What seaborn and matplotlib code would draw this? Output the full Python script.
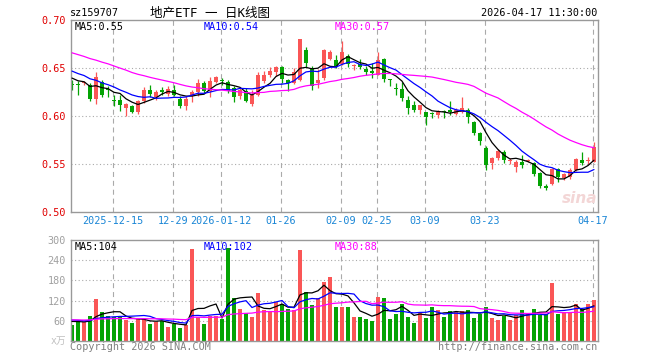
import numpy as np
import pandas as pd
import matplotlib
matplotlib.use("Agg")
import matplotlib.pyplot as plt
import seaborn as sns

# trading calendar (SZ exchange, holidays removed)
holidays = ["2026-01-01", "2026-01-02", "2026-02-16", "2026-02-17", "2026-02-18",
            "2026-02-19", "2026-02-20", "2026-02-23", "2026-04-06"]
days = pd.bdate_range("2025-12-04", "2026-04-17")
days = days[~days.isin(pd.to_datetime(holidays))]

open_ = [0.6330, 0.6330, 0.6345, 0.6320, 0.6178, 0.6356, 0.6280, 0.6165, 0.6168, 0.6085,
         0.6105, 0.6040, 0.6160, 0.6273, 0.6200, 0.6273, 0.6227, 0.6273, 0.6178, 0.6105,
         0.6210, 0.6250, 0.6342, 0.6255, 0.6353, 0.6375, 0.6353, 0.6290, 0.6203, 0.6255,
         0.6126, 0.6220, 0.6367, 0.6423, 0.6454, 0.6507, 0.6370, 0.6342, 0.6377, 0.6692,
         0.6500, 0.6342, 0.6395, 0.6594, 0.6580, 0.6545, 0.6629, 0.6520, 0.6545, 0.6489,
         0.6472, 0.6430, 0.6597, 0.6384, 0.6283, 0.6280, 0.6168, 0.6115, 0.6056, 0.6045,
         0.6022, 0.6010, 0.6036, 0.6047, 0.6020, 0.6045, 0.6063, 0.5941, 0.5818, 0.5661,
         0.5510, 0.5556, 0.5623, 0.5533, 0.5462, 0.5521, 0.5525, 0.5504, 0.5406, 0.5256,
         0.5294, 0.5441, 0.5347, 0.5357, 0.5434, 0.5538, 0.5525, 0.5521]
high = [0.6377, 0.6360, 0.6360, 0.6340, 0.6454, 0.6370, 0.6310, 0.6220, 0.6220, 0.6133,
        0.6110, 0.6165, 0.6300, 0.6325, 0.6266, 0.6300, 0.6307, 0.6325, 0.6203, 0.6203,
        0.6270, 0.6388, 0.6360, 0.6410, 0.6412, 0.6395, 0.6377, 0.6315, 0.6300, 0.6290,
        0.6273, 0.6454, 0.6465, 0.6507, 0.6517, 0.6517, 0.6384, 0.6500, 0.6797, 0.6720,
        0.6517, 0.6489, 0.6700, 0.6690, 0.6640, 0.6779, 0.6650, 0.6545, 0.6594, 0.6517,
        0.6552, 0.6664, 0.6605, 0.6388, 0.6342, 0.6350, 0.6203, 0.6150, 0.6115, 0.6045,
        0.6035, 0.6063, 0.6063, 0.6150, 0.6080, 0.6196, 0.6080, 0.5951, 0.5836, 0.5690,
        0.5573, 0.5654, 0.5640, 0.5560, 0.5538, 0.5591, 0.5545, 0.5521, 0.5416, 0.5294,
        0.5451, 0.5451, 0.5406, 0.5451, 0.5556, 0.5619, 0.5570, 0.5731]
low = [0.6266, 0.6220, 0.6325, 0.6160, 0.6122, 0.6200, 0.6200, 0.6105, 0.6055, 0.6000,
       0.6030, 0.6020, 0.6133, 0.6196, 0.6168, 0.6220, 0.6203, 0.6203, 0.6080, 0.6056,
       0.6143, 0.6210, 0.6238, 0.6200, 0.6340, 0.6325, 0.6238, 0.6140, 0.6175, 0.6140,
       0.6105, 0.6203, 0.6343, 0.6405, 0.6412, 0.6342, 0.6255, 0.6332, 0.6360, 0.6510,
       0.6265, 0.6290, 0.6377, 0.6583, 0.6500, 0.6535, 0.6510, 0.6475, 0.6490, 0.6430,
       0.6395, 0.6430, 0.6350, 0.6314, 0.6220, 0.6160, 0.6020, 0.6035, 0.6020, 0.5906,
       0.5976, 0.5976, 0.5976, 0.6010, 0.6010, 0.6030, 0.5923, 0.5800, 0.5700, 0.5433,
       0.5441, 0.5542, 0.5507, 0.5500, 0.5416, 0.5451, 0.5514, 0.5370, 0.5252, 0.5224,
       0.5276, 0.5311, 0.5329, 0.5340, 0.5427, 0.5486, 0.5497, 0.5514]
close = [0.6320, 0.6320, 0.6350, 0.6175, 0.6405, 0.6220, 0.6270, 0.6158, 0.6115, 0.6126,
         0.6045, 0.6150, 0.6268, 0.6231, 0.6245, 0.6245, 0.6283, 0.6220, 0.6105, 0.6178,
         0.6245, 0.6344, 0.6255, 0.6360, 0.6402, 0.6365, 0.6255, 0.6192, 0.6273, 0.6150,
         0.6220, 0.6430, 0.6423, 0.6472, 0.6507, 0.6384, 0.6342, 0.6454, 0.6797, 0.6552,
         0.6307, 0.6377, 0.6685, 0.6664, 0.6524, 0.6667, 0.6545, 0.6527, 0.6510, 0.6454,
         0.6447, 0.6587, 0.6384, 0.6377, 0.6280, 0.6185, 0.6080, 0.6063, 0.6108, 0.5993,
         0.6020, 0.6045, 0.6035, 0.6045, 0.6063, 0.6080, 0.5993, 0.5825, 0.5741, 0.5486,
         0.5563, 0.5630, 0.5535, 0.5538, 0.5521, 0.5486, 0.5531, 0.5392, 0.5266, 0.5252,
         0.5444, 0.5357, 0.5392, 0.5434, 0.5546, 0.5504, 0.5531, 0.5671]
volume = [47, 56, 56, 75, 125, 86, 75, 72, 74, 62, 53, 65, 66, 50, 57, 60, 42, 49, 38, 47,
          275, 72, 51, 75, 75, 66, 277, 127, 95, 83, 71, 143, 92, 89, 115, 109, 96, 92, 272, 147,
          107, 128, 175, 191, 101, 101, 101, 71, 71, 64, 59, 131, 128, 65, 80, 109, 71, 53, 85, 68,
          100, 92, 71, 88, 85, 90, 91, 67, 80, 100, 68, 61, 75, 61, 77, 92, 84, 95, 77, 80,
          173, 80, 85, 85, 110, 95, 109, 122]

# sessions before the visible window, only needed for the moving averages
prior_close = [0.688, 0.692, 0.685, 0.690, 0.684, 0.680, 0.683, 0.678, 0.676, 0.679,
               0.672, 0.670, 0.674, 0.668, 0.666, 0.670, 0.664, 0.662, 0.665, 0.660,
               0.658, 0.655, 0.652, 0.656, 0.649, 0.646, 0.640, 0.642, 0.637]
prior_volume = [58, 66, 61, 70, 55, 63, 59, 68, 62, 57, 64, 71, 60, 56, 66, 62, 58, 69, 63, 60,
                66, 70, 64, 68, 62, 58, 61, 63, 59]

tick_dates = ["2025-12-15", "2025-12-29", "2026-01-12", "2026-01-26", "2026-02-09",
              "2026-02-25", "2026-03-09", "2026-03-23", "2026-04-17"]
tick_labels = ["2025-12-15", "12-29", "2026-01-12", "01-26", "02-09",
               "02-25", "03-09", "03-23", "04-17"]

RED = "#fa5656"
GREEN = "#04a304"
MA_COLORS = {5: "black", 10: "#0000ff", 30: "#ff00ff"}
MONO = "DejaVu Sans Mono"
FS = 7.3

sns.set_style("white")
plt.rcParams["font.family"] = [MONO, "Noto Sans CJK SC"]

df = pd.DataFrame({"date": days, "open": open_, "high": high, "low": low,
                   "close": close, "volume": volume})
df["idx"] = np.arange(len(df))
df["up"] = df["close"] >= df["open"]
df["color"] = np.where(df["up"], RED, GREEN)

closes_all = pd.Series(prior_close + close)
vols_all = pd.Series(prior_volume + volume)
n_prior = len(prior_close)
for n in (5, 10, 30):
    df[f"ma{n}"] = closes_all.rolling(n).mean().iloc[n_prior:].values
    df[f"vma{n}"] = vols_all.rolling(n).mean().iloc[n_prior:].values

tick_pos = [df.index[df["date"] == pd.Timestamp(d)][0] - 0.22 for d in tick_dates]

W, H = 660, 360
fig = plt.figure(figsize=(6.6, 3.6), dpi=100)
ax = fig.add_axes([70.7 / W, 1 - 211.7 / H, 527 / W, 191.7 / H])
axv = fig.add_axes([70.7 / W, 1 - 340.7 / H, 527 / W, 100.4 / H])

grid_kw = dict(color="#aaaaaa", lw=0.8, zorder=0)
for a in (ax, axv):
    for x in tick_pos:
        a.axvline(x, ls=(0, (4.5, 3.5)), **grid_kw)
    for s in a.spines.values():
        s.set_color("#999999")
        s.set_linewidth(1.0)

# price panel
for y in (0.55, 0.60, 0.65):
    ax.axhline(y, ls=(0, (1, 2.2)), **grid_kw)

body_lo = df[["open", "close"]].min(axis=1)
body_h = (df["close"] - df["open"]).abs().clip(lower=0.0011)
ax.vlines(df["idx"], df["low"], df["high"], colors=df["color"], lw=0.9, zorder=2)
ax.bar(df["idx"], body_h, bottom=body_lo, width=0.78, color=df["color"], lw=0, zorder=2)
for n in (5, 10, 30):
    sns.lineplot(x=df["idx"], y=df[f"ma{n}"], color=MA_COLORS[n], lw=0.9,
                 ax=ax, legend=False, zorder=3)

ax.set_xlim(-0.22, 87.62)
ax.set_ylim(0.50, 0.70)
ax.set_yticks([0.50, 0.55, 0.60, 0.65, 0.70])
ax.set_yticklabels([f"{v:.2f}" for v in [0.50, 0.55, 0.60, 0.65, 0.70]],
                   color="#e00000", fontsize=FS, family=MONO)
ax.set_xticks(tick_pos)
ax.set_xticklabels(tick_labels, color="#1a86d6", fontsize=FS, family=MONO)
ax.tick_params(axis="y", length=0, pad=3.4)
ax.tick_params(axis="x", length=0, pad=3.0)
ax.set_xlabel("")
ax.set_ylabel("")

# volume panel
for y in (60, 120, 180, 240):
    axv.axhline(y, ls=(0, (1, 2.2)), **grid_kw)
axv.bar(df["idx"], df["volume"], width=0.8, color=df["color"], lw=0, zorder=2)
for n in (5, 10, 30):
    sns.lineplot(x=df["idx"], y=df[f"vma{n}"], color=MA_COLORS[n], lw=0.9,
                 ax=axv, legend=False, zorder=3)
axv.set_xlim(-0.22, 87.62)
axv.set_ylim(0, 300)
axv.set_yticks([60, 120, 180, 240, 300])
axv.set_yticklabels(["60", "120", "180", "240", "300"], color="#a0a0a0",
                    fontsize=FS, family=MONO)
axv.set_xticks([])
axv.tick_params(axis="y", length=0, pad=3.4)
axv.set_xlabel("")
axv.set_ylabel("")


def px_text(x, y, s, **kw):
    fig.text(x / W, 1 - y / H, s, va="center", **kw)


last = df.iloc[-1]
px_text(70, 13.5, "sz159707", fontsize=FS, family=MONO, color="black")
px_text(210, 13.5, "地产ETF 一 日K线图", fontsize=9, ha="center",
        family=[MONO, "Noto Sans CJK SC"], color="black")
px_text(597, 13.5, "2026-04-17 11:30:00", fontsize=FS, ha="right", family=MONO, color="black")

px_text(74.5, 26.5, f"MA5:{last['ma5']:.2f}", fontsize=FS, family=MONO, color=MA_COLORS[5])
px_text(204, 26.5, f"MA10:{last['ma10']:.2f}", fontsize=FS, family=MONO, color=MA_COLORS[10])
px_text(334.5, 26.5, f"MA30:{last['ma30']:.2f}", fontsize=FS, family=MONO, color=MA_COLORS[30])

px_text(74.5, 246.5, f"MA5:{last['vma5']:.0f}", fontsize=FS, family=MONO, color=MA_COLORS[5])
px_text(204, 246.5, f"MA10:{last['vma10']:.0f}", fontsize=FS, family=MONO, color=MA_COLORS[10])
px_text(334.5, 246.5, f"MA30:{last['vma30']:.0f}", fontsize=FS, family=MONO, color=MA_COLORS[30])

px_text(66, 340.5, "x万", fontsize=7, ha="right", family=[MONO, "Noto Sans CJK SC"],
        color="#c0c0c0")
px_text(70, 346.5, "Copyright 2026 SINA.COM", fontsize=FS, family=MONO, color="#808080")
px_text(597, 346.5, "http://finance.sina.com.cn", fontsize=FS, ha="right",
        family=MONO, color="#808080")
px_text(580, 198, "sina", fontsize=11, ha="center", family="DejaVu Sans",
        style="italic", weight="bold", color="#f3d6d6")

fig.savefig("out.png", dpi=100)
